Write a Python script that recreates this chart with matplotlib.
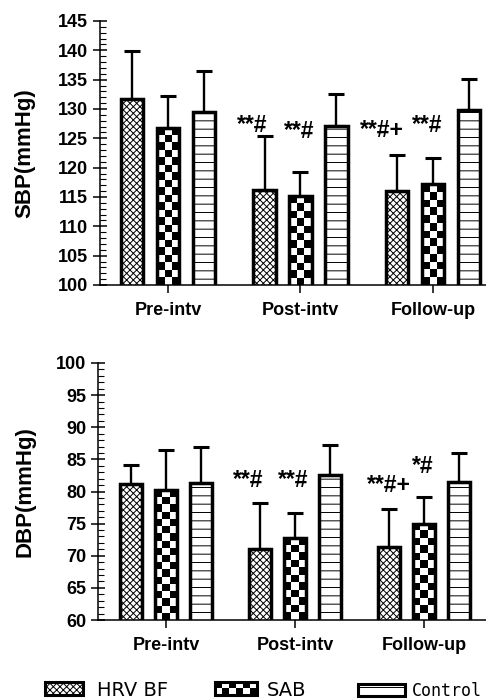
import numpy as np
import matplotlib
matplotlib.use('Agg')
import matplotlib.pyplot as plt
from matplotlib.ticker import MultipleLocator
from matplotlib.legend_handler import HandlerBase
from matplotlib.image import BboxImage
from matplotlib.transforms import Bbox, TransformedBbox
from matplotlib.patches import Rectangle, Patch

# data
groups = ['Pre-intv', 'Post-intv', 'Follow-up']
series = ['HRV BF', 'SAB', 'Control']

sbp_hrv = [131.7, 116.2, 116.0]
sbp_hrv_sd = [8.2, 9.2, 6.2]
sbp_sab = [126.8, 115.1, 117.2]
sbp_sab_sd = [5.4, 4.1, 4.5]
sbp_ctl = [129.5, 127.1, 129.8]
sbp_ctl_sd = [6.9, 5.5, 5.3]

dbp_hrv = [81.2, 71.1, 71.3]
dbp_hrv_sd = [3.0, 7.1, 5.9]
dbp_sab = [80.2, 72.8, 75.0]
dbp_sab_sd = [6.2, 3.9, 4.2]
dbp_ctl = [81.4, 82.6, 81.5]
dbp_ctl_sd = [5.5, 4.6, 4.5]

# significance marks: (text, x, baseline y)
sbp_marks = [('**#', 0.634, 126.1), ('**#', 0.992, 125.1),
             ('**#+', 1.615, 125.2), ('**#', 1.955, 126.1)]
dbp_marks = [('**#', 0.636, 80.7), ('**#', 0.984, 80.7),
             ('**#+', 1.725, 79.9), ('*#', 1.992, 82.9)]

plt.rcParams['font.family'] = ['Liberation Sans', 'DejaVu Sans']
plt.rcParams['hatch.linewidth'] = 0.7


def checker(nr, nc):
    return (np.indices((nr, nc)).sum(axis=0) % 2).astype(float)


class CheckerHandler(HandlerBase):
    def create_artists(self, legend, orig_handle, xdescent, ydescent,
                       width, height, fontsize, trans):
        box = Bbox.from_bounds(-xdescent, -ydescent, width, height)
        img = BboxImage(TransformedBbox(box, trans), cmap='gray',
                        norm=plt.Normalize(0, 1), interpolation='nearest')
        img.set_data(checker(2, 6))
        frame = Rectangle((-xdescent, -ydescent), width, height,
                          facecolor='none', edgecolor='black', lw=2.2,
                          transform=trans)
        return [img, frame]


def draw_panel(ax, means, sds, ylim, xlim, ylabel, label_x, marks):
    ax.set_xlim(xlim)
    ax.set_ylim(ylim)
    x = np.arange(len(groups))
    offs = [-0.27, 0.0, 0.27]
    hatches = ['xxxxx', None, '--']
    p0 = ax.transData.transform((0, 0))
    p1 = ax.transData.transform((1, 1))
    sx, sy = p1[0] - p0[0], p1[1] - p0[1]
    for i in range(3):
        face = 'none' if i == 1 else 'white'
        bars = ax.bar(x + offs[i], means[i], width=0.17, facecolor=face,
                      edgecolor='black', linewidth=2.5, hatch=hatches[i],
                      zorder=2)
        if i == 1:
            # checkerboard fill for SAB
            for rect in bars:
                x0, w, top = rect.get_x(), rect.get_width(), rect.get_height()
                nc = 3
                cell = w * sx / nc
                nr = max(1, int(round((top - ylim[0]) * sy / cell)))
                ax.imshow(checker(nr, nc), extent=(x0, x0 + w, ylim[0], top),
                          aspect='auto', cmap='gray', vmin=0, vmax=1,
                          interpolation='nearest', zorder=1.5)
        ax.errorbar(x + offs[i], means[i], yerr=[np.zeros(3), sds[i]],
                    fmt='none', ecolor='black', elinewidth=1.7, capsize=5.5,
                    capthick=2.2, zorder=3)
    ax.set_xlim(xlim)
    ax.set_ylim(ylim)

    for txt, tx, ty in marks:
        ax.text(tx, ty, txt, ha='center', va='baseline', fontsize=16.5,
                fontweight='bold', zorder=4)

    ax.spines['top'].set_visible(False)
    ax.spines['right'].set_visible(False)
    ax.spines['left'].set_linewidth(1.1)
    ax.spines['bottom'].set_linewidth(1.1)

    ax.set_xticks(x)
    ax.set_xticklabels(groups, fontsize=13, fontweight='bold')
    ax.tick_params(axis='x', direction='out', length=6, width=1.1, pad=6)
    ax.set_yticks(np.arange(ylim[0], ylim[1] + 1, 5))
    ax.yaxis.set_minor_locator(MultipleLocator(1))
    ax.tick_params(axis='y', which='major', direction='inout', length=10,
                   width=1.1, labelsize=13)
    ax.tick_params(axis='y', which='minor', direction='in', length=4,
                   width=0.8)
    for lab in ax.get_yticklabels():
        lab.set_fontweight('bold')
    ax.set_ylabel(ylabel, fontsize=16, fontweight='bold')
    ax.yaxis.set_label_coords(label_x, 0.5)


fig = plt.figure(figsize=(4.86, 6.99), dpi=100)
ax1 = fig.add_axes([0.2058, 0.5923, 0.7942, 0.3777])
ax2 = fig.add_axes([0.2016, 0.1130, 0.7984, 0.3677])

draw_panel(ax1, [sbp_hrv, sbp_sab, sbp_ctl], [sbp_hrv_sd, sbp_sab_sd, sbp_ctl_sd],
           (100, 145), (-0.513, 2.40), 'SBP(mmHg)', -0.168, sbp_marks)
draw_panel(ax2, [dbp_hrv, dbp_sab, dbp_ctl], [dbp_hrv_sd, dbp_sab_sd, dbp_ctl_sd],
           (60, 100), (-0.527, 2.48), 'DBP(mmHg)', -0.162, dbp_marks)

# legend along the bottom
h_hrv = Patch(facecolor='white', edgecolor='black', hatch='xxxxx', lw=2.2)
h_sab = Patch(facecolor='white', edgecolor='black', lw=2.2)
h_ctl = Patch(facecolor='white', edgecolor='black', hatch='--', lw=2.2)

common = dict(loc='center left', frameon=False, borderpad=0, borderaxespad=0)
fig.legend([h_hrv], [series[0]], bbox_to_anchor=(45 / 486, 1 - 690 / 699),
           handlelength=1.96, handleheight=0.65, handletextpad=0.72,
           prop={'family': 'DejaVu Sans', 'size': 14}, **common)
fig.legend([h_sab], [series[1]], bbox_to_anchor=(215 / 486, 1 - 690 / 699),
           handlelength=2.16, handleheight=0.65, handletextpad=0.52,
           handler_map={h_sab: CheckerHandler()},
           prop={'family': 'DejaVu Sans', 'size': 14}, **common)
fig.legend([h_ctl], [series[2]], bbox_to_anchor=(358 / 486, 1 - 691 / 699),
           handlelength=2.8, handleheight=0.7, handletextpad=0.42,
           prop={'family': 'DejaVu Sans Mono', 'size': 12}, **common)

fig.savefig('out.png', dpi=100)
